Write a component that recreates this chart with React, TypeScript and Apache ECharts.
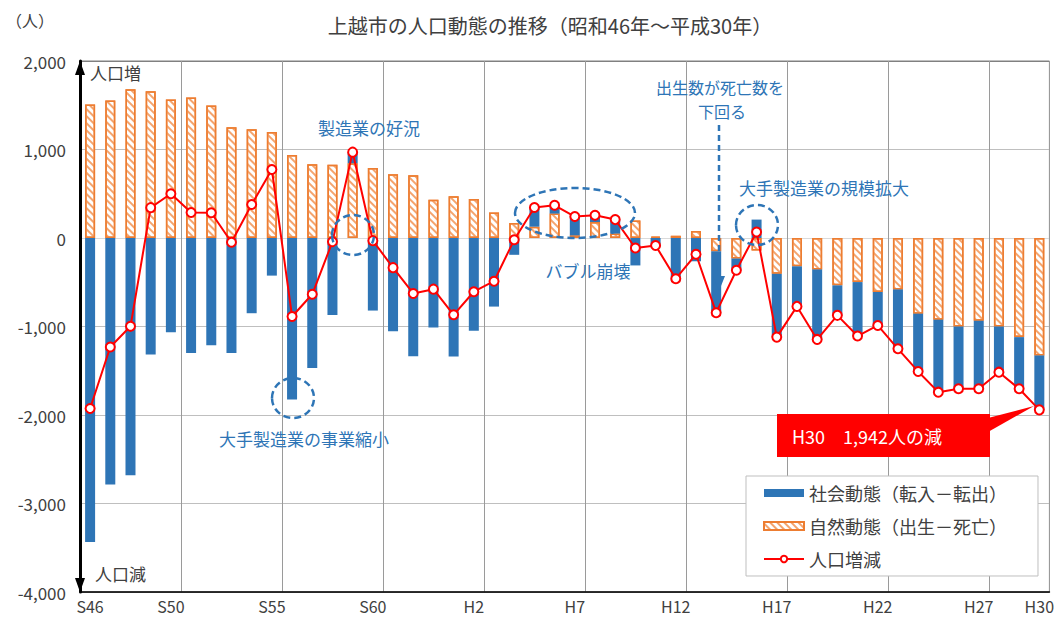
import React, { useEffect, useRef } from 'react';
import * as echarts from 'echarts';

const categories = [
  'S46', 'S47', 'S48', 'S49', 'S50', 'S51', 'S52', 'S53', 'S54', 'S55',
  'S56', 'S57', 'S58', 'S59', 'S60', 'S61', 'S62', 'S63', 'H1', 'H2',
  'H3', 'H4', 'H5', 'H6', 'H7', 'H8', 'H9', 'H10', 'H11', 'H12',
  'H13', 'H14', 'H15', 'H16', 'H17', 'H18', 'H19', 'H20', 'H21', 'H22',
  'H23', 'H24', 'H25', 'H26', 'H27', 'H28', 'H29', 'H30',
];

const labelYears = ['S46', 'S50', 'S55', 'S60', 'H2', 'H7', 'H12', 'H17', 'H22', 'H27', 'H30'];

// 自然動態（出生－死亡）
const natural = [
  1509, 1554, 1682, 1659, 1565, 1588, 1497, 1252, 1229, 1199,
  939, 834, 828, 845, 790, 720, 708, 432, 472, 441,
  287, 170, 128, 276, 30, 181, 50, 197, 15, 25,
  79, -150, -232, -140, -405, -320, -355, -535, -498, -610,
  -581, -855, -923, -1000, -935, -1000, -1120, -1327,
];

// 社会動態（転入－転出）
const social = [
  -3435, -2785, -2680, -1316, -1065, -1300, -1212, -1300, -850, -425,
  -1826, -1470, -870, 125, -820, -1055, -1335, -1010, -1340, -1048,
  -775, -190, 216, 94, 212, 76, 158, -310, -100, -485,
  -263, -694, -133, 208, -715, -453, -791, -339, -610, -378,
  -671, -653, -819, -704, -769, -516, -584, -615,
];

// 人口増減
const total = [
  -1926, -1231, -998, 343, 500, 288, 285, -48, 379, 774,
  -887, -636, -42, 970, -30, -335, -627, -578, -868, -607,
  -488, -20, 344, 370, 242, 257, 208, -113, -85, -460,
  -184, -844, -365, 68, -1120, -773, -1146, -874, -1108, -988,
  -1252, -1508, -1742, -1704, -1704, -1516, -1704, -1942,
];

const FONT = '"Noto Sans CJK JP", "Noto Sans", sans-serif';
const ANN = '#2E75B6';
const TXT = '#404040';

export default function App() {
  const ref = useRef<HTMLDivElement | null>(null);

  useEffect(() => {
    if (!ref.current) return;
    const chart = echarts.init(ref.current, undefined, { renderer: 'svg' });

    const annText = (text: string, x: number, y: number, size = 17) => ({
      type: 'text',
      x,
      y,
      z: 60,
      style: {
        text,
        fill: ANN,
        fontSize: size,
        fontFamily: FONT,
        lineHeight: size,
        align: 'center',
        verticalAlign: 'middle',
      },
    });
    const dashEllipse = (cx: number, cy: number, rx: number, ry: number) => ({
      type: 'ellipse',
      z: 60,
      shape: { cx, cy, rx, ry },
      style: { fill: 'transparent', stroke: ANN, lineWidth: 2.5, lineDash: [7, 4] },
    });

    const option: any = {
      animation: false,
      backgroundColor: '#fff',
      textStyle: { fontFamily: FONT },
      title: {
        text: '上越市の人口動態の推移（昭和46年～平成30年）',
        left: 545,
        top: 10,
        textAlign: 'center',
        textStyle: { fontSize: 20, fontWeight: 'normal', color: TXT, fontFamily: FONT },
      },
      grid: {
        left: 80,
        right: 5,
        top: 61,
        bottom: 28,
        show: true,
        borderColor: '#808080',
        borderWidth: 1,
      },
      legend: {
        orient: 'vertical',
        left: 746,
        top: 476,
        padding: [8, 31, 8, 17],
        itemGap: 15,
        itemWidth: 40,
        itemHeight: 8,
        backgroundColor: '#fff',
        borderColor: '#BFBFBF',
        borderWidth: 1,
        textStyle: { fontSize: 18, color: TXT, fontFamily: FONT },
        data: [
          { name: '社会動態（転入－転出）', icon: 'rect' },
          { name: '自然動態（出生－死亡）', icon: 'rect' },
          { name: '人口増減' },
        ],
      },
      xAxis: {
        type: 'category',
        data: categories,
        boundaryGap: true,
        axisLine: { onZero: false, lineStyle: { color: '#000', width: 1.5 } },
        axisTick: { show: false },
        axisLabel: {
          interval: (_i: number, v: string) => labelYears.includes(v),
          fontSize: 16,
          color: TXT,
          margin: 6,
          fontFamily: FONT,
        },
        splitLine: {
          show: true,
          interval: (i: number) => i > 0 && i % 5 === 0,
          lineStyle: { color: '#9A9A9A', width: 1 },
        },
      },
      yAxis: {
        type: 'value',
        min: -4000,
        max: 2000,
        interval: 1000,
        axisLine: {
          show: true,
          onZero: false,
          symbol: ['triangle', 'triangle'],
          symbolSize: [10, 14],
          symbolOffset: [7, -7],
          lineStyle: { color: '#000', width: 3 },
        },
        axisTick: { show: false },
        axisLabel: {
          formatter: (v: number) => v.toLocaleString('en-US'),
          fontSize: 17,
          color: TXT,
          margin: 14,
          fontFamily: FONT,
        },
        splitLine: {
          show: true,
          lineStyle: {
            color: ['#999999', '#BFBFBF', '#BFBFBF', '#BFBFBF', '#DADADA', '#BFBFBF', '#808080'],
            width: 1,
          },
        },
      },
      series: [
        {
          name: '自然動態（出生－死亡）',
          type: 'bar',
          stack: 'pop',
          data: natural,
          barWidth: 10,
          itemStyle: {
            color: '#ffffff',
            borderColor: '#ED7D31',
            borderWidth: 1.5,
            decal: {
              symbol: 'rect',
              symbolSize: 1,
              dashArrayX: [1, 0],
              dashArrayY: [2, 2.5],
              rotation: Math.PI / 4,
              color: '#F4A46E',
            },
          },
        },
        {
          name: '社会動態（転入－転出）',
          type: 'bar',
          stack: 'pop',
          data: social,
          barWidth: 10,
          itemStyle: { color: '#2E75B6' },
        },
        {
          name: '人口増減',
          type: 'line',
          data: total,
          z: 5,
          symbol: 'circle',
          symbolSize: 9,
          lineStyle: { color: '#FF0000', width: 2 },
          itemStyle: { color: '#ffffff', borderColor: '#FF0000', borderWidth: 2 },
        },
      ],
      graphic: [
        {
          type: 'text',
          x: 6,
          y: 20,
          style: { text: '（人）', fontSize: 16, fill: TXT, fontFamily: FONT, verticalAlign: 'middle' },
        },
        {
          type: 'text',
          x: 90,
          y: 72,
          z: 60,
          style: { text: '人口増', fontSize: 17, fill: TXT, fontFamily: FONT, verticalAlign: 'middle' },
        },
        {
          type: 'text',
          x: 95,
          y: 573,
          z: 60,
          style: { text: '人口減', fontSize: 17, fill: TXT, fontFamily: FONT, verticalAlign: 'middle' },
        },
        annText('製造業の好況', 369, 127),
        dashEllipse(353, 235, 21, 20),
        annText('大手製造業の事業縮小', 304, 438),
        dashEllipse(293, 398, 21, 20),
        annText('バブル崩壊', 588, 270),
        dashEllipse(575, 213, 60, 25),
        annText('出生数が死亡数を', 720, 87, 16),
        annText('下回る', 722, 111, 16),
        {
          type: 'line',
          z: 60,
          shape: { x1: 719, y1: 125, x2: 719, y2: 278 },
          style: { stroke: ANN, lineWidth: 2.5, lineDash: [6, 4] },
        },
        {
          type: 'polygon',
          z: 60,
          shape: { points: [[713, 276], [725, 276], [719, 291]] },
          style: { fill: ANN },
        },
        annText('大手製造業の規模拡大', 824, 187),
        dashEllipse(757, 225, 21, 20),
        {
          type: 'polygon',
          z: 100,
          shape: { points: [[988, 418], [988, 432], [1034, 406]] },
          style: { fill: '#FF0000' },
        },
        {
          type: 'rect',
          z: 100,
          shape: { x: 777, y: 414, width: 213, height: 43 },
          style: { fill: '#FF0000' },
        },
        {
          type: 'text',
          z: 101,
          x: 792,
          y: 436,
          style: {
            text: 'H30　1,942人の減',
            fontSize: 18,
            fill: '#ffffff',
            fontFamily: FONT,
            verticalAlign: 'middle',
          },
        },
      ],
    };

    chart.setOption(option);
    return () => chart.dispose();
  }, []);

  return (
    <div
      ref={ref}
      style={{ position: 'fixed', left: 0, top: 0, width: 1057, height: 620, background: '#fff' }}
    />
  );
}
